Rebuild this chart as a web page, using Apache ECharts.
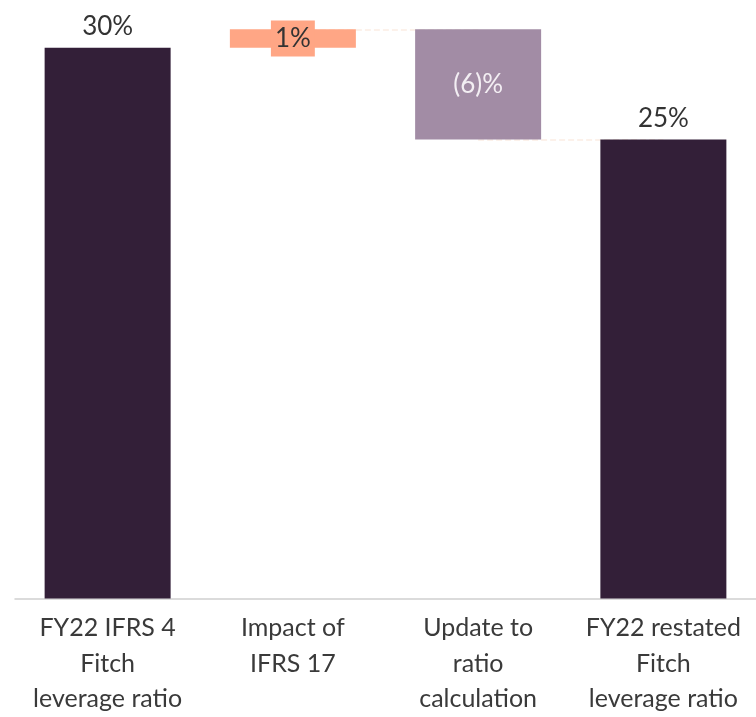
<!DOCTYPE html>
<html><head><meta charset="utf-8">
<script src="https://cdn.jsdelivr.net/npm/echarts@6/dist/echarts.min.js"></script>
<style>html,body{margin:0;padding:0;background:#fff;overflow:hidden}#c{width:756px;height:717px}</style>
</head><body><div id="c"></div>
<script>
var categories = ["FY22 IFRS 4\nFitch\nleverage ratio", "Impact of\nIFRS 17", "Update to\nratio\ncalculation", "FY22 restated\nFitch\nleverage ratio"];
var baseValues = [0, 30, 25, 0];
var barValues = [30, 1, 6, 25];
var labelTexts = ["30%", "1%", "(6)%", "25%"];
var barColors = ["#331F38", "#FFA685", "#A28CA5", "#331F38"];
var connectors = [[1, 2, 31], [2, 3, 25]];

var chart = echarts.init(document.getElementById('c'), null, {renderer: 'canvas'});
var font = 'Lato, "Noto Sans", sans-serif';

var visData = barValues.map(function (v, i) {
  var lbl = {show: true, formatter: labelTexts[i], fontFamily: font, fontSize: 26, color: '#333'};
  if (i === 0 || i === 3) { lbl.position = 'top'; lbl.distance = 8; }
  else if (i === 1) { lbl.position = 'inside'; lbl.backgroundColor = barColors[1]; lbl.padding = [6, 4, 4, 4]; }
  else { lbl.position = 'inside'; lbl.color = '#F3EEF3'; }
  return {value: v, itemStyle: {color: barColors[i]}, label: lbl};
});

var markData = connectors.map(function (c) {
  return [{coord: [c[0], c[2]]}, {coord: [c[1], c[2]]}];
});

chart.setOption({
  animation: false,
  grid: {left: 15, right: -9, top: 11, bottom: 114},
  xAxis: {
    type: 'category', data: categories,
    axisLine: {lineStyle: {color: '#cfcfcf', width: 1.5}},
    axisTick: {show: false},
    axisLabel: {fontFamily: font, fontSize: 25, color: '#3a3a3a', lineHeight: 35.5, margin: 12, interval: 0}
  },
  yAxis: {type: 'value', min: 0, max: 32, show: false, splitLine: {show: false}},
  series: [
    {type: 'bar', stack: 'w', data: baseValues, itemStyle: {color: 'transparent'}, barWidth: 126, silent: true,
     markLine: {symbol: 'none', silent: true, z: 0, label: {show: false},
       lineStyle: {color: '#FBEDE4', type: 'dashed', width: 1.5}, data: markData}},
    {type: 'bar', stack: 'w', data: visData, barWidth: 126, z: 3}
  ]
});
</script></body></html>
